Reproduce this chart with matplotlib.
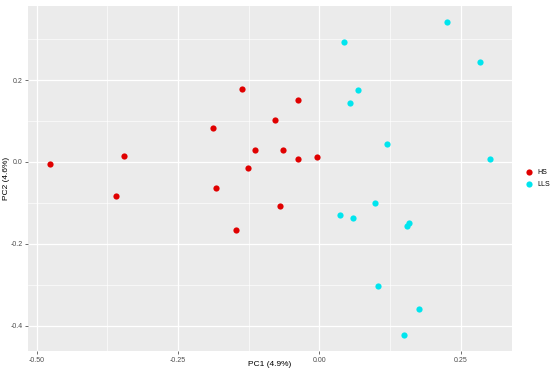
import numpy as np
import matplotlib
matplotlib.use('Agg')
import matplotlib.pyplot as plt
from matplotlib.ticker import MultipleLocator

plt.rcParams['font.family'] = ['Liberation Sans', 'DejaVu Sans']

# ---PCA scores
hs_pc1 = [-0.477, -0.346, -0.359, -0.189, -0.137, -0.114, -0.126, -0.182, -0.147,
          -0.078, -0.038, -0.065, -0.038, -0.004, -0.070]
hs_pc2 = [-0.004, 0.015, -0.084, 0.082, 0.178, 0.029, -0.014, -0.063, -0.166,
          0.102, 0.152, 0.029, 0.008, 0.012, -0.107]
lls_pc1 = [0.044, 0.226, 0.285, 0.068, 0.055, 0.119, 0.302, 0.099, 0.037,
           0.060, 0.159, 0.155, 0.103, 0.177, 0.150]
lls_pc2 = [0.293, 0.342, 0.245, 0.176, 0.144, 0.044, 0.006, -0.100, -0.129,
           -0.137, -0.149, -0.157, -0.304, -0.359, -0.424]

groups = ['HS', 'LLS']
colors = ['#E00000', '#00E5EE']

fig = plt.figure(figsize=(5.5, 3.73), dpi=100)
ax = fig.add_axes([28 / 550, 1 - 351 / 373, (512 - 28) / 550, (351 - 6) / 373])
ax.set_facecolor('#EBEBEB')

ax.scatter(hs_pc1, hs_pc2, s=20, color=colors[0], label=groups[0], zorder=3, linewidths=0)
ax.scatter(lls_pc1, lls_pc2, s=20, color=colors[1], label=groups[1], zorder=3, linewidths=0)

ax.set_xlim(-0.5156, 0.341)
ax.set_ylim(-0.462, 0.381)
ax.xaxis.set_minor_locator(MultipleLocator(0.125))
ax.yaxis.set_minor_locator(MultipleLocator(0.1))
ax.set_xticks([-0.5, -0.25, 0.0, 0.25])
ax.set_xticklabels(['-0.50', '-0.25', '0.00', '0.25'])
ax.set_yticks([-0.4, -0.2, 0.0, 0.2])
ax.set_yticklabels(['-0.4', '-0.2', '0.0', '0.2'])
ax.grid(which='major', color='white', linewidth=0.9)
ax.grid(which='minor', color='white', linewidth=0.45)
ax.set_axisbelow(True)
for s in ax.spines.values():
    s.set_visible(False)
ax.tick_params(which='major', length=2, width=0.5, color='#333333', labelsize=5,
               labelcolor='#4D4D4D', pad=2)
ax.tick_params(which='minor', length=0)

fig.text(270 / 550, 1 - 364 / 373, 'PC1 (4.9%)', fontsize=6, ha='center', va='center')
fig.text(7 / 550, 1 - 178 / 373, 'PC2 (4.6%)', fontsize=6, ha='center', va='center',
         rotation=90)

leg = ax.legend(loc='center left', bbox_to_anchor=(1.0, 0.5), frameon=False,
                fontsize=5, handletextpad=0.2, markerscale=1.0, borderaxespad=1.0,
                labelspacing=0.8)
for h in leg.legend_handles:
    h.set_sizes([20])

plt.savefig('out.png', dpi=100)
